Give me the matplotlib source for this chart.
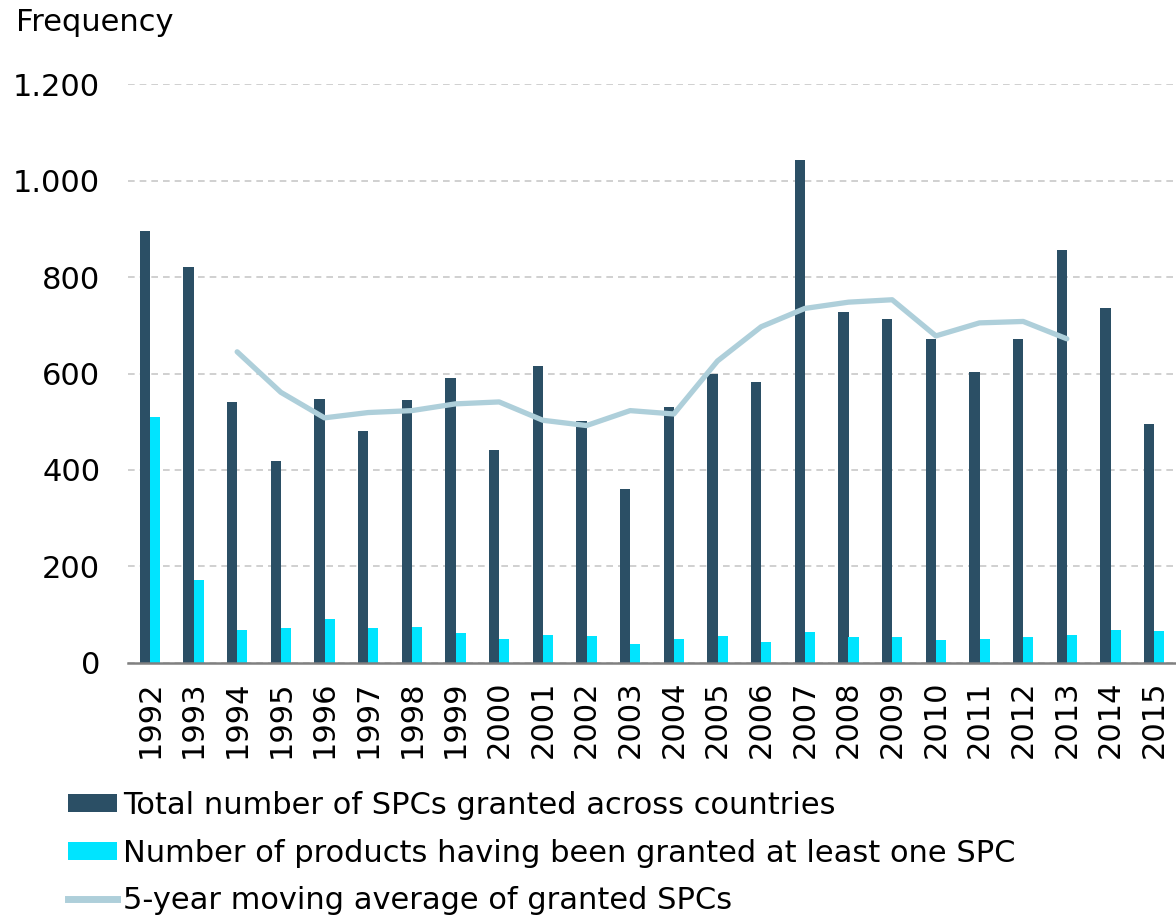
import matplotlib
matplotlib.use("Agg")
import matplotlib.pyplot as plt
import numpy as np
from matplotlib.ticker import FuncFormatter
from matplotlib.patches import Patch
from matplotlib.lines import Line2D

years = [str(y) for y in range(1992, 2016)]
total_spcs = [896, 820, 541, 419, 547, 481, 546, 591, 441, 616, 501, 360,
              531, 600, 582, 1043, 727, 714, 671, 603, 671, 856, 736, 496]
products = [510, 172, 68, 73, 91, 73, 75, 61, 49, 57, 55, 38,
            50, 55, 42, 64, 53, 53, 47, 49, 53, 57, 67, 65]
ma_years = [str(y) for y in range(1994, 2014)]
moving_avg = [645, 561, 508, 519, 523, 537, 541, 503, 492, 523,
              516, 626, 697, 735, 748, 753, 678, 705, 708, 672]

label_total = "Total number of SPCs granted across countries"
label_products = "Number of products having been granted at least one SPC"
label_ma = "5-year moving average of granted SPCs"

c_dark = "#2b4f65"
c_cyan = "#00e4ff"
c_line = "#aecfda"

plt.rcParams['font.family'] = ['DejaVu Sans']

fig = plt.figure(figsize=(11.76, 9.15), dpi=100)
ax = fig.add_axes([128/1176, 1-662.7/915, 1-128/1176, (662.7-84.3)/915])

x = np.arange(len(years))
w = 0.236
ax.bar(x - w/2, total_spcs, width=w, color=c_dark, zorder=3)
ax.bar(x + w/2, products, width=w, color=c_cyan, zorder=3)
mx = [years.index(y) for y in ma_years]
ax.plot(mx, moving_avg, color=c_line, lw=3.8, zorder=4, solid_capstyle='round')

ax.set_xlim(-0.5, 23.5)
ax.set_ylim(0, 1200)
ax.set_yticks(range(0, 1201, 200))
ax.yaxis.set_major_formatter(FuncFormatter(lambda v, p: f"{int(v):,}".replace(",", ".")))
ax.set_xticks(x)
ax.set_xticklabels(years, rotation=90)
ax.tick_params(axis='both', length=0, labelsize=22)
ax.tick_params(axis='y', pad=20)
ax.tick_params(axis='x', pad=13)

ax.grid(axis='y', color='#c8c8c8', linestyle=(0, (4, 3)), linewidth=1.2, zorder=0)
for s in ['top', 'right', 'left']:
    ax.spines[s].set_visible(False)
ax.spines['bottom'].set_color('#808080')
ax.spines['bottom'].set_linewidth(1.8)
ax.spines['bottom'].set_zorder(5)

fig.text(16/1176, 1-8/915, "Frequency", fontsize=22, va='top', ha='left')

handles = [Patch(facecolor=c_dark, label=label_total),
           Patch(facecolor=c_cyan, label=label_products),
           Line2D([0], [0], color=c_line, lw=5, label=label_ma)]
fig.legend(handles=handles, loc='upper left', bbox_to_anchor=(68/1176, 1-791/915),
           frameon=False, fontsize=22, handlelength=1.6, handleheight=0.55,
           handletextpad=0.2, labelspacing=0.61, borderpad=0, borderaxespad=0)

fig.savefig("out.png", dpi=100)
